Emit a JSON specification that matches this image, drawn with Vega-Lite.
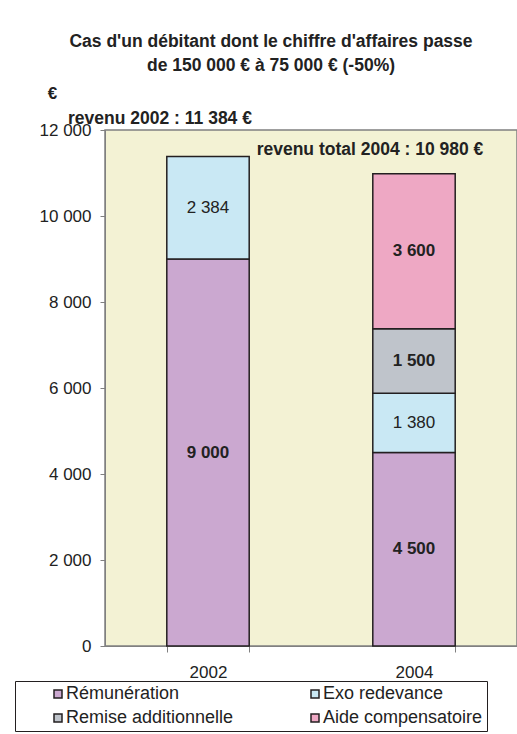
{
  "$schema": "https://vega.github.io/schema/vega-lite/v6.json",
  "width": 412,
  "height": 516,
  "autosize": {"type": "none"},
  "padding": {"left": 105, "top": 130, "right": 0, "bottom": 88},
  "background": "white",
  "title": {
    "text": ["Cas d'un débitant dont le chiffre d'affaires passe", "de 150 000 € à 75 000 € (-50%)"],
    "fontSize": 17.5,
    "font": "Liberation Sans",
    "fontWeight": "bold",
    "color": "#222222",
    "lineHeight": 24,
    "anchor": "middle",
    "dx": -40,
    "offset": 10
  },
  "datasets": {
    "revenus": [
      {"annee": "2002", "poste": "Rémunération", "montant": 9000},
      {"annee": "2002", "poste": "Exo redevance", "montant": 2384},
      {"annee": "2004", "poste": "Rémunération", "montant": 4500},
      {"annee": "2004", "poste": "Exo redevance", "montant": 1380},
      {"annee": "2004", "poste": "Remise additionnelle", "montant": 1500},
      {"annee": "2004", "poste": "Aide compensatoire", "montant": 3600}
    ],
    "totaux": [
      {"annee": "2002", "total": 11384, "texte": "revenu 2002 : 11 384 €"},
      {"annee": "2004", "total": 10980, "texte": "revenu total 2004 : 10 980 €"}
    ]
  },
  "layer": [
    {
      "data": {"name": "revenus"},
      "transform": [{"stack": "montant", "groupby": ["annee"], "as": ["bas", "haut"]}],
      "mark": {"type": "bar", "stroke": "#231F20", "strokeWidth": 1.5},
      "encoding": {
        "x": {
          "field": "annee", "type": "nominal",
          "scale": {"paddingInner": 0.6, "paddingOuter": 0.3},
          "axis": {
            "title": null, "labelAngle": 0, "labelFontSize": 17, "labelFont": "Liberation Sans",
            "labelColor": "#222222", "tickBand": "extent", "tickSize": 6, "tickColor": "#808080",
            "domainColor": "#808080", "labelPadding": 12, "grid": false
          }
        },
        "y": {
          "field": "bas", "type": "quantitative", "title": "€",
          "scale": {"domain": [0, 12000], "nice": false},
          "axis": {
            "titleAngle": 0, "titleX": -53, "titleY": -37, "titleAlign": "center", "titleBaseline": "middle",
            "titleFontSize": 17, "titleFontWeight": "bold", "titleFont": "Liberation Sans", "titleColor": "#222222",
            "values": [0, 2000, 4000, 6000, 8000, 10000, 12000], "format": ",d",
            "labelFontSize": 17, "labelFont": "Liberation Sans", "labelColor": "#222222", "labelPadding": 9,
            "tickSize": 5, "grid": false, "domainColor": "#808080", "tickColor": "#808080"
          }
        },
        "y2": {"field": "haut"},
        "color": {
          "field": "poste", "type": "nominal",
          "scale": {
            "domain": ["Rémunération", "Exo redevance", "Remise additionnelle", "Aide compensatoire"],
            "range": ["#CBA8D0", "#C9E8F4", "#BFC4CB", "#EEA8C4"]
          },
          "legend": {
            "orient": "none", "legendX": -90, "legendY": 551, "columns": 2, "direction": "horizontal", "title": null,
            "symbolType": "square", "symbolSize": 64, "symbolStrokeColor": "#231F20", "symbolStrokeWidth": 1.5,
            "labelFontSize": 18, "labelFont": "Liberation Sans", "labelColor": "#222222", "labelLimit": 300,
            "strokeColor": "#231F20", "padding": 4, "rowPadding": 6, "columnPadding": 42,
            "gridAlign": "all", "labelOffset": -1, "symbolOffset": 30
          }
        }
      }
    },
    {
      "data": {"name": "revenus"},
      "transform": [
        {"stack": "montant", "groupby": ["annee"], "as": ["bas", "haut"]},
        {"filter": "datum.poste !== 'Exo redevance'"},
        {"fold": ["bas", "haut"], "as": ["bord", "pos"]}
      ],
      "mark": {"type": "text", "font": "Liberation Sans", "fontSize": 17, "fontWeight": "bold", "color": "#222222", "baseline": "middle"},
      "encoding": {
        "x": {"field": "annee", "type": "nominal"},
        "y": {"aggregate": "mean", "field": "pos", "type": "quantitative", "title": "€"},
        "text": {"field": "montant", "type": "quantitative", "format": ",d"}
      }
    },
    {
      "data": {"name": "revenus"},
      "transform": [
        {"stack": "montant", "groupby": ["annee"], "as": ["bas", "haut"]},
        {"filter": "datum.poste === 'Exo redevance'"},
        {"fold": ["bas", "haut"], "as": ["bord", "pos"]}
      ],
      "mark": {"type": "text", "font": "Liberation Sans", "fontSize": 17, "color": "#222222", "baseline": "middle"},
      "encoding": {
        "x": {"field": "annee", "type": "nominal"},
        "y": {"aggregate": "mean", "field": "pos", "type": "quantitative", "title": "€"},
        "text": {"field": "montant", "type": "quantitative", "format": ",d"}
      }
    },
    {
      "data": {"name": "totaux"},
      "transform": [{"filter": "datum.annee === '2002'"}],
      "mark": {"type": "text", "font": "Liberation Sans", "fontSize": 17.5, "fontWeight": "bold", "color": "#222222", "baseline": "middle", "dx": -48, "dy": -37},
      "encoding": {
        "x": {"field": "annee", "type": "nominal"},
        "y": {"field": "total", "type": "quantitative", "title": "€"},
        "text": {"field": "texte", "type": "nominal"}
      }
    },
    {
      "data": {"name": "totaux"},
      "transform": [{"filter": "datum.annee === '2004'"}],
      "mark": {"type": "text", "font": "Liberation Sans", "fontSize": 17.5, "fontWeight": "bold", "color": "#222222", "baseline": "middle", "dx": -44, "dy": -24},
      "encoding": {
        "x": {"field": "annee", "type": "nominal"},
        "y": {"field": "total", "type": "quantitative", "title": "€"},
        "text": {"field": "texte", "type": "nominal"}
      }
    }
  ],
  "config": {
    "locale": {"number": {"decimal": ",", "thousands": " ", "grouping": [3], "currency": ["", " €"]}},
    "view": {"fill": "#F3F2D4", "stroke": "#808080", "strokeWidth": 1.5}
  }
}
